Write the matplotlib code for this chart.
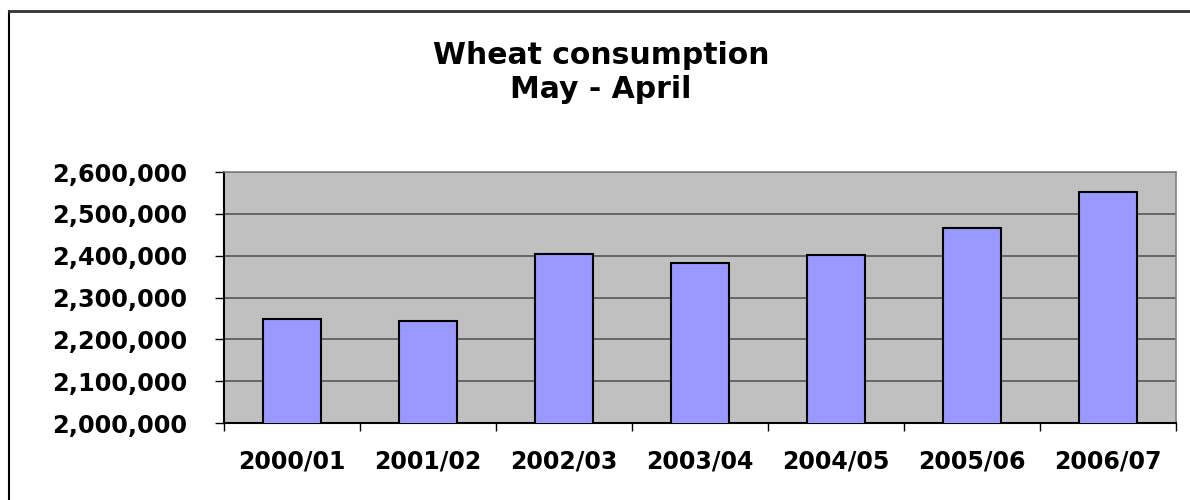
import matplotlib
matplotlib.use("Agg")
import matplotlib.pyplot as plt
from matplotlib.ticker import FuncFormatter, FixedLocator
from matplotlib.lines import Line2D

categories = ["2000/01", "2001/02", "2002/03", "2003/04", "2004/05", "2005/06", "2006/07"]
consumption = [2249000, 2244000, 2403000, 2383000, 2402000, 2465000, 2552000]
y_ticks = [2000000, 2100000, 2200000, 2300000, 2400000, 2500000, 2600000]
title_lines = ["Wheat consumption", "May - April"]

plt.rcParams['font.family'] = ['DejaVu Sans']

fig = plt.figure(figsize=(11.9, 5.0), dpi=100)
fig.patch.set_facecolor('white')
ax = fig.add_axes([224/1190, 77/500, 952/1190, 251/500])
ax.set_facecolor('#C0C0C0')

x = list(range(len(categories)))
ax.bar(x, consumption, width=0.42, color='#9999FF', edgecolor='black', linewidth=1.5, zorder=3)

ax.set_xlim(-0.5, len(categories) - 0.5)
ax.set_ylim(y_ticks[0], y_ticks[-1])
ax.yaxis.set_major_locator(FixedLocator(y_ticks))
ax.yaxis.set_major_formatter(FuncFormatter(lambda v, p: f"{int(v):,}"))
ax.grid(axis='y', color='#4d4d4d', linewidth=1.1, zorder=1)
ax.set_axisbelow(True)

ax.set_xticks(x)
ax.set_xticklabels(categories)
ax.set_xticks([i - 0.5 for i in range(len(categories) + 1)], minor=True)
ax.tick_params(axis='x', which='major', length=0, pad=19, labelsize=17)
ax.tick_params(axis='x', which='minor', length=5.5, width=1, color='black', direction='out')
ax.tick_params(axis='y', which='major', length=6.5, width=1, color='black', direction='out', pad=20, labelsize=17.3)
for lbl in ax.get_xticklabels() + ax.get_yticklabels():
    lbl.set_fontweight('bold')

ax.spines['left'].set_color('black')
ax.spines['left'].set_linewidth(1.5)
ax.spines['bottom'].set_color('black')
ax.spines['bottom'].set_linewidth(1.5)
ax.spines['top'].set_color('#808080')
ax.spines['top'].set_linewidth(1.2)
ax.spines['right'].set_color('#808080')
ax.spines['right'].set_linewidth(1.2)

fig.text(0.505, 1 - 63.5/500, title_lines[0], ha='center', va='baseline', fontsize=21.5, fontweight='bold')
fig.text(0.505, 1 - 98/500, title_lines[1], ha='center', va='baseline', fontsize=21.5, fontweight='bold')

# chart area border (top and left visible)
fig.add_artist(Line2D([9/1190, 9/1190], [0, 1 - 10.5/500], transform=fig.transFigure, color='black', linewidth=1.5))
fig.add_artist(Line2D([9/1190, 1], [1 - 10.5/500, 1 - 10.5/500], transform=fig.transFigure, color='#333333', linewidth=2))

fig.savefig("out.png", dpi=100)
